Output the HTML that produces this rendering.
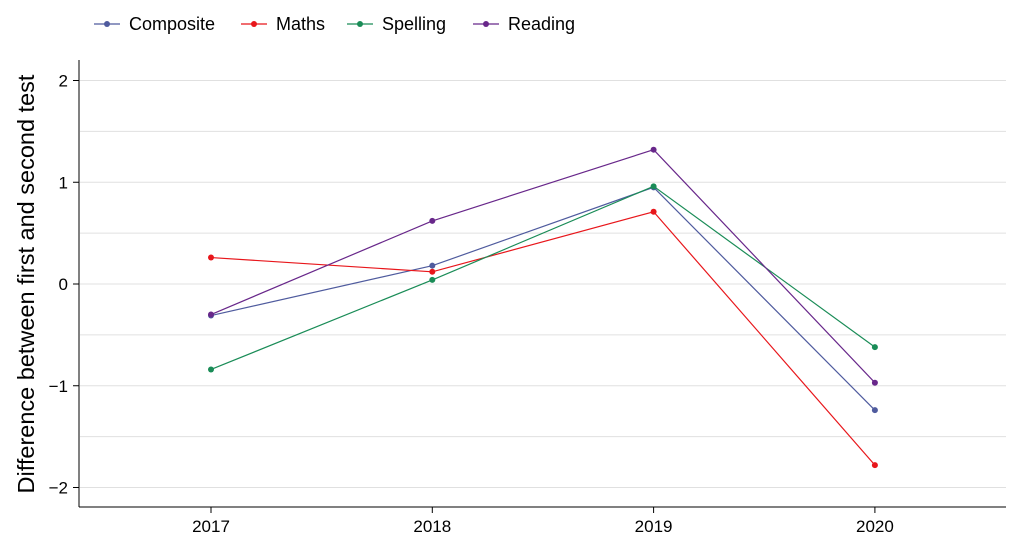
<!DOCTYPE html>
<html><head><meta charset="utf-8"><style>
body{margin:0;background:#fff;}
svg text{font-family:"Liberation Sans",Arial,sans-serif;fill:#000;}
</style></head><body>
<svg id="chart" width="1024" height="551" viewBox="0 0 1024 551" xmlns="http://www.w3.org/2000/svg">
<g id="grid"></g>
<g id="axes"></g>
<g id="series"></g>
<g id="legend"></g>
<text transform="translate(34,284) rotate(-90)" text-anchor="middle" font-size="23.5">Difference between first and second test</text>
</svg>
<script>
const years = [2017, 2018, 2019, 2020];
const yTicks = [-2, -1, 0, 1, 2];
const seriesNames = ["Composite", "Maths", "Spelling", "Reading"];
const composite = [-0.31, 0.18, 0.95, -1.24];
const maths = [0.26, 0.12, 0.71, -1.78];
const spelling = [-0.84, 0.04, 0.96, -0.62];
const reading = [-0.30, 0.62, 1.32, -0.97];

const NS = "http://www.w3.org/2000/svg";
const colors = ["#4f5b9e", "#e8161b", "#1a8c57", "#68278a"];
const allSeries = [composite, maths, spelling, reading];
const x = v => 211 + (v - 2017) * 221.3;
const y = v => 284 - v * 101.75;
function mk(tag, attrs, parent){const e=document.createElementNS(NS,tag);for(const k in attrs)e.setAttribute(k,attrs[k]);parent.appendChild(e);return e;}
const grid=document.getElementById('grid'), axes=document.getElementById('axes'), ser=document.getElementById('series'), leg=document.getElementById('legend');
for(let v=-2; v<=2.01; v+=0.5){
  const l=mk('line',{x1:80,x2:1006,y1:y(v),y2:y(v),stroke:'#e0e0e0','stroke-width':1},grid);
  
  
}
const ya=mk('line',{x1:79,x2:79,y1:60,y2:507,stroke:'#000','stroke-width':1},axes);


const xa=mk('line',{x1:79,x2:1006,y1:507,y2:507,stroke:'#000','stroke-width':1},axes);


yTicks.forEach(t=>{
  mk('line',{x1:73,x2:79,y1:y(t),y2:y(t),stroke:'#000'},axes);
  const tx=mk('text',{x:68,y:y(t)+6,'text-anchor':'end','font-size':17},axes);
  tx.textContent=t<0?'\u2212'+Math.abs(t):String(t);
  
  
});
years.forEach(yr=>{
  mk('line',{x1:x(yr),x2:x(yr),y1:507,y2:513,stroke:'#000'},axes);
  const tx=mk('text',{x:x(yr),y:532,'text-anchor':'middle','font-size':17},axes);
  tx.textContent=yr;
  
  
});
allSeries.forEach((vals,i)=>{
  const g=mk('g',{},ser);
  
  
  const pl=mk('polyline',{points:vals.map((v,j)=>x(years[j])+','+y(v)).join(' '),fill:'none',stroke:colors[i],'stroke-width':1.2},g);
  
  
  vals.forEach((v,j)=>{
    const c=mk('circle',{cx:x(years[j]),cy:y(v),r:3,fill:colors[i]},g);
    
    
  });
});
const lx=[94,241,347,473];
seriesNames.forEach((n,i)=>{
  const g=mk('g',{},leg);
  
  
  mk('line',{x1:lx[i],x2:lx[i]+26,y1:24,y2:24,stroke:colors[i],'stroke-width':1.2},g);
  mk('circle',{cx:lx[i]+13,cy:24,r:3,fill:colors[i]},g);
  const t=mk('text',{x:lx[i]+35,y:30,'font-size':18},g);
  t.textContent=n;
});
</script>
</body></html>
